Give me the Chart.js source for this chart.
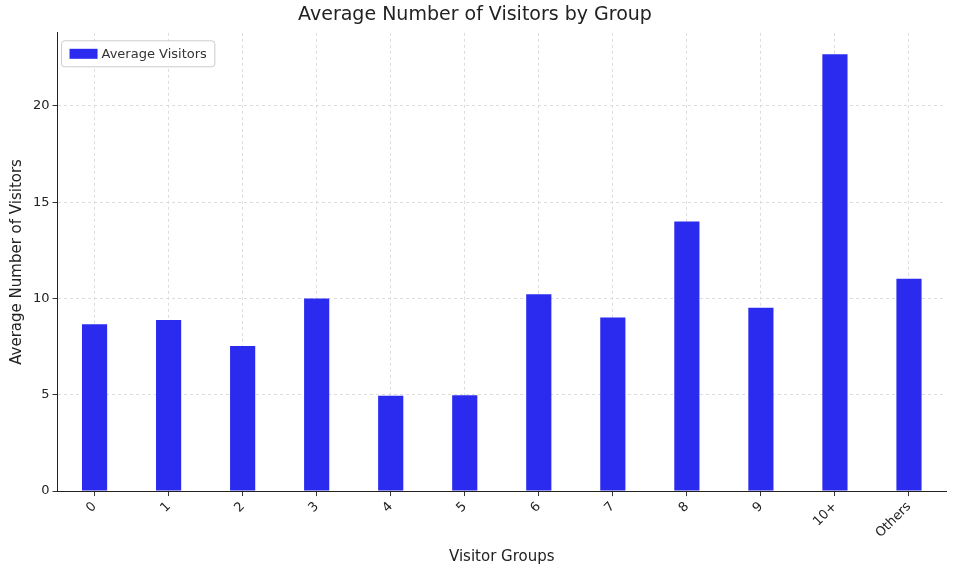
<!DOCTYPE html>
<html><head><meta charset="utf-8">
<script src="https://cdn.jsdelivr.net/npm/chart.js@4"></script>
<style>html,body{margin:0;background:#fff}#w{width:960px;height:570px}</style>
</head><body><div id="w"><canvas id="c"></canvas></div>
<script>
const categories=["0","1","2","3","4","5","6","7","8","9","10+","Others"];
const averageVisitors=[8.66,8.88,7.54,10.0,4.95,4.98,10.22,9.02,14.0,9.52,22.68,11.03];
const seriesLabel="Average Visitors";
const barColor="#2b2bef";
const legendInside={id:"legendInside",afterDraw(ch){const a=ch.chartArea,c=ch.ctx;const x=a.left+4,y=a.top+8;
c.save();c.font="13px 'DejaVu Sans'";const w=c.measureText(seriesLabel).width;
c.fillStyle="rgba(255,255,255,0.85)";c.strokeStyle="#ccc";c.lineWidth=1;
c.beginPath();c.roundRect(x,y,w+48,26,3);c.fill();c.stroke();
c.fillStyle=barColor;c.fillRect(x+8,y+8,28,10);c.fillStyle="#333";c.textBaseline="middle";c.fillText(seriesLabel,x+40,y+13.5);c.restore();}};
new Chart(document.getElementById("c"),{type:"bar",
data:{labels:categories,datasets:[{label:seriesLabel,data:averageVisitors,backgroundColor:barColor,barPercentage:0.34,categoryPercentage:1}]},
options:{responsive:true,maintainAspectRatio:false,animation:false,
layout:{padding:{left:4,right:14,top:0,bottom:0}},
plugins:{legend:{display:false},tooltip:{enabled:false},
title:{display:true,text:"Average Number of Visitors by Group",color:"#222",font:{family:"DejaVu Sans",size:19,weight:"normal"},padding:{top:4,bottom:6}}},
scales:{
x:{grid:{offset:false,color:"#ddd",drawTicks:true,tickColor:"#333",tickLength:5},border:{color:"#222",dash:[3,3]},
ticks:{color:"#222",font:{family:"DejaVu Sans",size:13},maxRotation:45,minRotation:45},
title:{display:true,text:"Visitor Groups",color:"#222",font:{family:"DejaVu Sans",size:15},padding:{top:4}}},
y:{min:0,max:23.8,grid:{color:"#ddd",tickColor:"#333",tickLength:5},border:{color:"#222",dash:[3,3]},
ticks:{stepSize:5,color:"#222",font:{family:"DejaVu Sans",size:13},callback:v=>v%5===0?v:null},
title:{display:true,text:"Average Number of Visitors",color:"#222",font:{family:"DejaVu Sans",size:15}}}}},
plugins:[legendInside]});
</script></body></html>
